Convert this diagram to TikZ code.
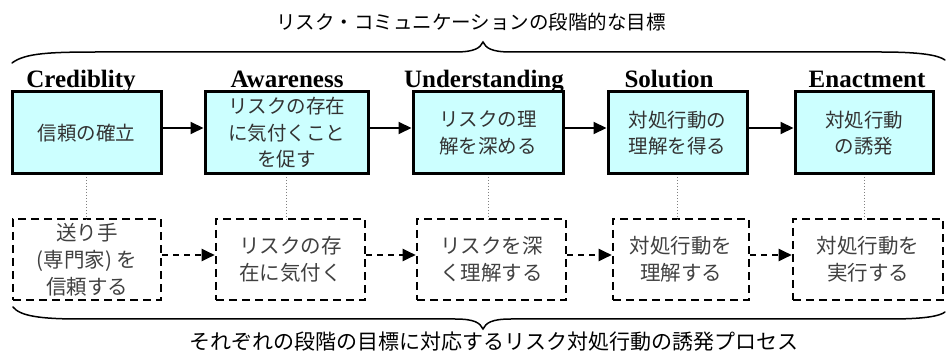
\documentclass[tikz,border=0pt]{standalone}
\usepackage{fontspec}
\setmainfont{Liberation Serif}
\newfontfamily\jp{Noto Sans CJK JP}
\usetikzlibrary{arrows.meta}
\definecolor{boxfill}{HTML}{CCFFFF}
\tikzset{
  goalbox/.style={draw=black, line width=3pt, fill=boxfill, minimum height=82pt,
    inner sep=0pt, align=center, text=black!80, font=\jp\fontsize{19.5}{26.5}\selectfont},
  actbox/.style={draw=black, line width=2.6pt, dash pattern=on 8pt off 5pt, minimum height=81pt,
    inner sep=0pt, align=center, text=black!75, font=\jp\fontsize{20.5}{27}\selectfont},
  stagelabel/.style={anchor=base, font=\bfseries\fontsize{25}{25}\selectfont, inner sep=0pt},
  solidarrow/.style={line width=2pt, -{Triangle[length=13pt,width=12pt]}},
  dasharrow/.style={line width=2pt, dash pattern=on 6pt off 5pt, -{Triangle[length=13pt,width=12pt]}},
  linkline/.style={gray, line width=0.8pt, dash pattern=on 1.5pt off 1.5pt},
  bracepath/.style={line width=1.5pt, line cap=round},
  caption/.style={font=\jp\fontsize{19.5}{20}\selectfont, inner sep=0pt}
}
\begin{document}
\begin{tikzpicture}[x=1pt,y=-1pt]
\useasboundingbox (0,0) rectangle (946,355);
% title and top brace
\node[caption] (title) at (471,22) {リスク・コミュニケーションの段階的な目標};
\draw[bracepath] (12,63) .. controls (25,53) and (50,52) .. (100,52) -- (455,52)
  .. controls (475,52) and (480,48) .. (483,42) .. controls (486,48) and (491,52) .. (511,52)
  -- (880,52) .. controls (920,52) and (938,55) .. (945,60);
% stage labels
\node[stagelabel] (l1) at (81,88) {Crediblity};
\node[stagelabel] (l2) at (287,88) {Awareness};
\node[stagelabel] (l3) at (484,88) {Understanding};
\node[stagelabel] (l4) at (669,88) {Solution};
\node[stagelabel] (l5) at (867,88) {Enactment};
% goal boxes
\node[goalbox, minimum width=149pt] (b1) at (86.5,133) {信頼の確立};
\node[goalbox, minimum width=163pt] (b2) at (286.5,133) {リスクの存在\\に気付くこと\\を促す};
\node[goalbox, minimum width=150pt] (b3) at (488,133) {リスクの理\\解を深める};
\node[goalbox, minimum width=139pt] (b4) at (677.5,133) {対処行動の\\理解を得る};
\node[goalbox, minimum width=138pt] (b5) at (864,133) {対処行動\\の誘発};
% action boxes
\node[actbox, minimum width=148pt] (d1) at (87,259.5) {送り手\\(専門家) を\\信頼する};
\node[actbox, minimum width=149pt] (d2) at (290.5,259.5) {リスクの存\\在に気付く};
\node[actbox, minimum width=149pt] (d3) at (491.5,259.5) {リスクを深\\く理解する};
\node[actbox, minimum width=136pt] (d4) at (681,259.5) {対処行動を\\理解する};
\node[actbox, minimum width=150pt] (d5) at (868,259.5) {対処行動を\\実行する};
% arrows
\foreach \a/\b in {b1/b2,b2/b3,b3/b4,b4/b5}
  \draw[solidarrow] ([yshift=5pt]\a.east) -- ([yshift=5pt]\b.west);
\foreach \a/\b in {d1/d2,d2/d3,d3/d4,d4/d5}
  \draw[dasharrow] ([yshift=4.5pt]\a.east) -- ([yshift=4.5pt]\b.west);
% links
\foreach \i in {1,...,5}
  \draw[linkline] ([yshift=-1.5pt]b\i.south) -- ([yshift=-1.5pt]b\i.south |- d\i.north);
% bottom brace and caption
\draw[bracepath] (13,307) .. controls (20,316) and (40,319) .. (80,319) -- (455,319)
  .. controls (475,319) and (480,323) .. (483,329) .. controls (486,323) and (491,319) .. (511,319)
  -- (890,319) .. controls (925,319) and (940,316) .. (945,312);
\node[caption, font=\jp\fontsize{21}{21}\selectfont] (bottom) at (494,342) {それぞれの段階の目標に対応するリスク対処行動の誘発プロセス};
\end{tikzpicture}
\end{document}
